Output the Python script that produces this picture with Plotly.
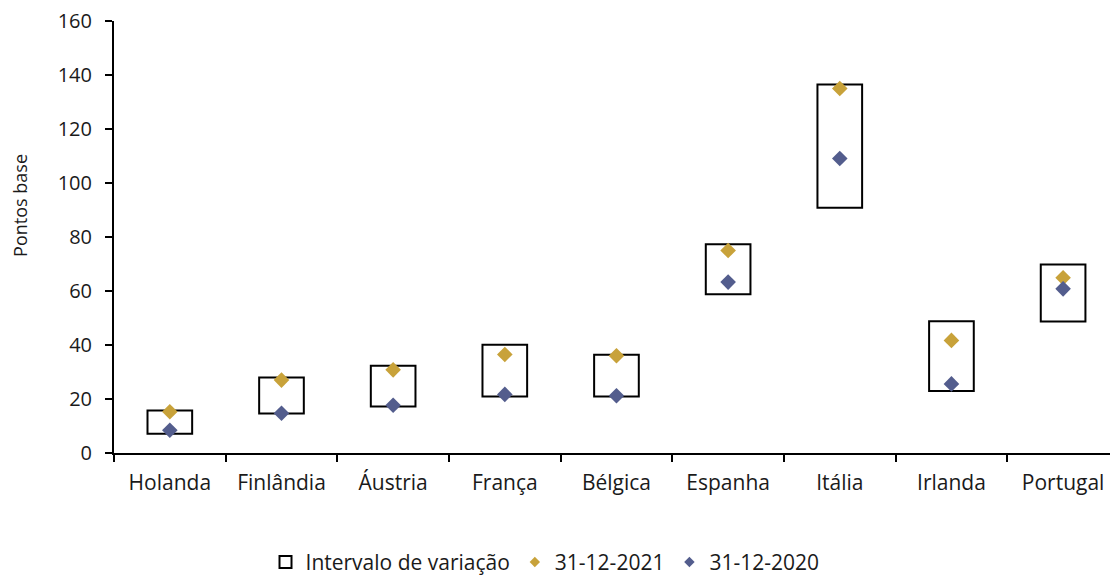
import plotly.graph_objects as go

# Country spreads vs. Germany (basis points)
countries = ["Holanda", "Finlândia", "Áustria", "França", "Bélgica",
             "Espanha", "Itália", "Irlanda", "Portugal"]
range_low = [7.1, 14.6, 17.2, 20.9, 20.9, 58.8, 90.8, 23.0, 48.7]
range_high = [15.7, 28.0, 32.3, 40.1, 36.4, 77.3, 136.5, 48.8, 69.8]
spread_2021 = [15.3, 27.0, 30.8, 36.5, 36.0, 75.0, 135.0, 41.7, 64.9]
spread_2020 = [8.4, 14.7, 17.7, 21.7, 21.2, 63.3, 109.1, 25.6, 60.8]
y_range = [0, 160]

GOLD = "#C8A23A"
BLUE = "#535D8D"
FONT = "Open Sans"
W, H = 1110, 575
PLOT_LEFT = 114      # px where the plotting area starts
LABEL_RIGHT = 92     # px where the y tick labels end

fig = go.Figure()

# Floating boxes: variation range between min and max
fig.add_trace(go.Bar(
    x=countries,
    y=[h - l for h, l in zip(range_high, range_low)],
    base=range_low,
    width=0.4,
    marker=dict(color="white", line=dict(color="black", width=2)),
    name="Intervalo de variação",
    hoverinfo="skip",
))

fig.add_trace(go.Scatter(
    x=countries, y=spread_2021, mode="markers",
    marker=dict(symbol="diamond", size=12, color=GOLD),
    name="31-12-2021", showlegend=False,
))
# drawn against the overlaid label axis (same range as the main one)
fig.add_trace(go.Scatter(
    x=countries, y=spread_2020, mode="markers", yaxis="y2",
    marker=dict(symbol="diamond", size=12, color=BLUE),
    name="31-12-2020", showlegend=False,
))

# Smaller legend symbols for the two dates
fig.add_trace(go.Scatter(
    x=[None], y=[None], mode="markers",
    marker=dict(symbol="diamond", size=8, color=GOLD),
    name="31-12-2021",
))
fig.add_trace(go.Scatter(
    x=[None], y=[None], mode="markers",
    marker=dict(symbol="diamond", size=8, color=BLUE),
    name="31-12-2020",
))

fig.update_layout(
    width=W, height=H,
    margin=dict(l=0, r=0, t=21, b=122, autoexpand=False),
    paper_bgcolor="white", plot_bgcolor="white",
    font=dict(family=FONT, size=20, color="#1a1a1a"),
    showlegend=True,
    legend=dict(
        orientation="h", x=0.491, xanchor="center",
        yref="container", y=0.022, yanchor="middle",
        font=dict(size=21), itemwidth=30,
        traceorder="normal",
    ),
    xaxis=dict(
        type="category",
        domain=[PLOT_LEFT / W, 1],
        range=[-0.5, 8.42],
        tickson="boundaries",
        ticks="outside", ticklen=7, tickwidth=1.5, tickcolor="black",
        showline=True, linecolor="black", linewidth=1.5,
        showgrid=False, zeroline=False,
        tickfont=dict(size=21),
        ticklabelstandoff=10,
    ),
    # axis line and tick marks at the plot edge
    yaxis=dict(
        range=y_range, dtick=20,
        ticks="outside", ticklen=7, tickwidth=1.5, tickcolor="black",
        showline=True, linecolor="black", linewidth=1.5,
        showgrid=False, zeroline=False,
        showticklabels=False,
    ),
    # tick labels, set further out from the axis line
    yaxis2=dict(
        overlaying="y", anchor="free", side="left",
        position=LABEL_RIGHT / W,
        range=y_range, dtick=20,
        ticks="", showline=False, showgrid=False, zeroline=False,
        tickfont=dict(size=20),
    ),
    # y-axis title, placed a little above the middle of the axis
    annotations=[dict(
        text="Pontos base", textangle=-90,
        xref="paper", yref="paper", x=20 / W, y=0.572,
        xanchor="center", yanchor="middle", showarrow=False,
        font=dict(size=18),
    )],
)

fig.write_html("out.html")
